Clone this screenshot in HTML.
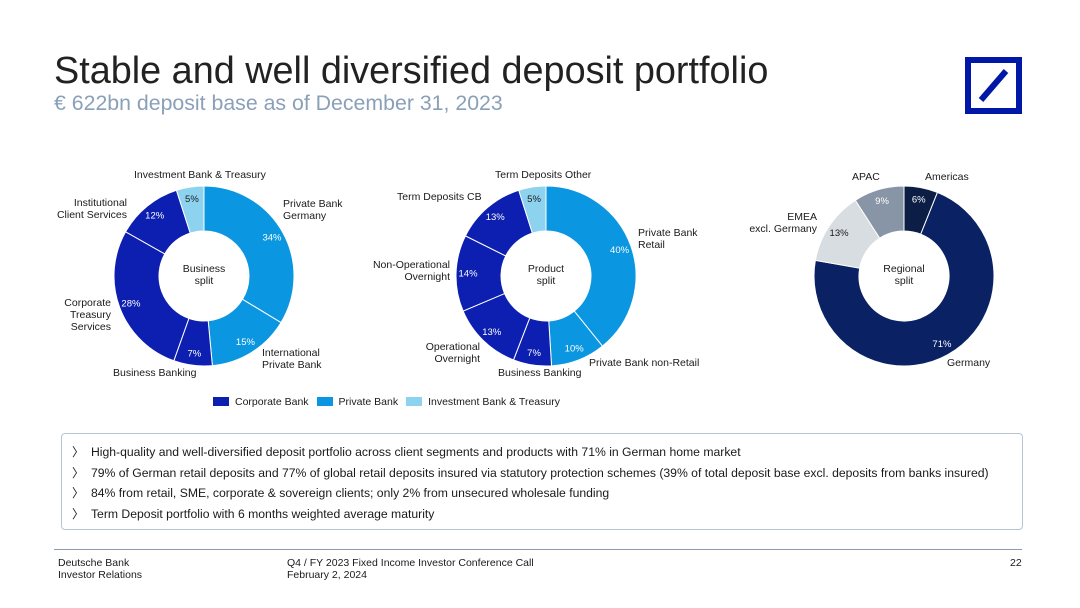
<!DOCTYPE html>
<html><head><meta charset="utf-8">
<style>
body{margin:0;width:1080px;height:608px;background:#fff;font-family:"Liberation Sans",sans-serif;position:relative;overflow:hidden;color:#1a1a1a}
.a{position:absolute;white-space:nowrap}
.t{font-size:10.5px;line-height:12px}
.r{text-align:right}
.c{text-align:center}
</style></head><body>
<div class="a" style="left:54px;top:50px;font-size:37.8px;color:#222">Stable and well diversified deposit portfolio</div>
<div class="a" style="left:54px;top:91px;font-size:21.3px;color:#8aa0b8">€ 622bn deposit base as of December 31, 2023</div>
<div class="a" style="left:965px;top:57px;width:57px;height:57px;box-sizing:border-box;border:6px solid #0018a8">
<svg width="45" height="45"><line x1="10" y1="37" x2="35" y2="8" stroke="#0018a8" stroke-width="6"/></svg></div>

<svg class="a" style="left:0;top:0" width="1080" height="608" id="chart"></svg>

<div class="a t c" style="left:134px;top:169px">Investment Bank &amp; Treasury</div>
<div class="a t" style="left:283px;top:198px">Private Bank<br>Germany</div>
<div class="a t r" style="left:50px;top:197px;width:77px">Institutional<br>Client Services</div>
<div class="a t r" style="left:40px;top:297px;width:71px">Corporate<br>Treasury<br>Services</div>
<div class="a t" style="left:262px;top:347px">International<br>Private Bank</div>
<div class="a t" style="left:113px;top:367px">Business Banking</div>
<div class="a t c" style="left:164px;top:263px;width:80px">Business<br>split</div>
<div class="a t" style="left:495px;top:169px">Term Deposits Other</div>
<div class="a t" style="left:397px;top:191px">Term Deposits CB</div>
<div class="a t" style="left:638px;top:227px">Private Bank<br>Retail</div>
<div class="a t r" style="left:360px;top:259px;width:90px">Non-Operational<br>Overnight</div>
<div class="a t r" style="left:400px;top:341px;width:80px">Operational<br>Overnight</div>
<div class="a t" style="left:589px;top:357px">Private Bank non-Retail</div>
<div class="a t" style="left:498px;top:367px">Business Banking</div>
<div class="a t c" style="left:506px;top:263px;width:80px">Product<br>split</div>
<div class="a t" style="left:852px;top:171px">APAC</div>
<div class="a t" style="left:925px;top:171px">Americas</div>
<div class="a t r" style="left:740px;top:211px;width:77px">EMEA<br>excl. Germany</div>
<div class="a t" style="left:947px;top:357px">Germany</div>
<div class="a t c" style="left:864px;top:263px;width:80px">Regional<br>split</div>

<div class="a t" style="left:213px;top:396px;display:flex;gap:8px;align-items:center">
<span><span style="display:inline-block;width:16px;height:9px;background:#0c1fb0;vertical-align:-1px;margin-right:6px"></span>Corporate Bank</span>
<span><span style="display:inline-block;width:16px;height:9px;background:#0a96e0;vertical-align:-1px;margin-right:6px"></span>Private Bank</span>
<span><span style="display:inline-block;width:16px;height:9px;background:#8dd2ef;vertical-align:-1px;margin-right:6px"></span>Investment Bank &amp; Treasury</span>
</div>

<div class="a" style="left:61px;top:433px;width:962px;height:97px;border:1px solid #b8c4d2;border-radius:4px;box-sizing:border-box;font-size:12.2px;line-height:20.5px;padding:8px 0 0 10px">
<div>〉&nbsp; High-quality and well-diversified deposit portfolio across client segments and products with 71% in German home market</div>
<div>〉&nbsp; 79% of German retail deposits and 77% of global retail deposits insured via statutory protection schemes (39% of total deposit base excl. deposits from banks insured)</div>
<div>〉&nbsp; 84% from retail, SME, corporate &amp; sovereign clients; only 2% from unsecured wholesale funding</div>
<div>〉&nbsp; Term Deposit portfolio with 6 months weighted average maturity</div>
</div>
<div class="a" style="left:54px;top:549px;width:968px;height:1px;background:#8a9ab0"></div>
<div class="a t" style="left:58px;top:557px">Deutsche Bank<br>Investor Relations</div>
<div class="a t" style="left:287px;top:557px">Q4 / FY 2023 Fixed Income Investor Conference Call<br>February 2, 2024</div>
<div class="a t" style="left:1010px;top:557px">22</div>

<script>
const businessCats=["Private Bank Germany","International Private Bank","Business Banking","Corporate Treasury Services","Institutional Client Services","Investment Bank & Treasury"];
const businessVals=[34,15,7,28,12,5];
const businessGroups=["pb","pb","cb","cb","cb","ib"];
const productCats=["Private Bank Retail","Private Bank non-Retail","Business Banking","Operational Overnight","Non-Operational Overnight","Term Deposits CB","Term Deposits Other"];
const productVals=[40,10,7,13,14,13,5];
const productGroups=["pb","pb","cb","cb","cb","cb","ib"];
const regionCats=["Americas","Germany","EMEA excl. Germany","APAC"];
const regionVals=[6,71,13,9];
const regionGroups=["am","de","emea","apac"];
const colors={pb:"#0a96e0",cb:"#0c1fb0",ib:"#8dd2ef",am:"#0c1e45",de:"#0a2163",emea:"#d8dde2",apac:"#8895a6"};
const txt={pb:"#fff",cb:"#fff",ib:"#1a1a1a",am:"#fff",de:"#fff",emea:"#1a1a1a",apac:"#fff"};
const svg=document.getElementById('chart');
const NS="http://www.w3.org/2000/svg";
function pt(cx,cy,r,a){return [cx+r*Math.sin(a),cy-r*Math.cos(a)];}
function donut(name,cx,cy,cats,vals,groups){
  const R=90,ri=45,tot=vals.reduce((a,b)=>a+b,0);let a0=0;
  vals.forEach((v,i)=>{
    const a1=a0+v/tot*2*Math.PI;
    const [x0,y0]=pt(cx,cy,R,a0),[x1,y1]=pt(cx,cy,R,a1),[x2,y2]=pt(cx,cy,ri,a1),[x3,y3]=pt(cx,cy,ri,a0);
    const lg=(a1-a0)>Math.PI?1:0;
    const p=document.createElementNS(NS,'path');
    p.setAttribute('d',`M${x0},${y0}A${R},${R} 0 ${lg} 1 ${x1},${y1}L${x2},${y2}A${ri},${ri} 0 ${lg} 0 ${x3},${y3}Z`);
    p.setAttribute('fill',colors[groups[i]]);p.setAttribute('stroke','#fff');p.setAttribute('stroke-width','1');
    
    
    svg.appendChild(p);
    const am=(a0+a1)/2;const [lx,ly]=pt(cx,cy,78,am);
    const t=document.createElementNS(NS,'text');
    t.setAttribute('x',lx);t.setAttribute('y',ly+3);t.setAttribute('text-anchor','middle');
    t.setAttribute('font-size','9.5');t.setAttribute('font-family','Liberation Sans, sans-serif');t.setAttribute('fill',txt[groups[i]]);
    t.textContent=v+'%';
    
    
    svg.appendChild(t);
    a0=a1;
  });
}
donut('business',204,276,businessCats,businessVals,businessGroups);
donut('product',546,276,productCats,productVals,productGroups);
donut('regional',904,276,regionCats,regionVals,regionGroups);
</script>
</body></html>
